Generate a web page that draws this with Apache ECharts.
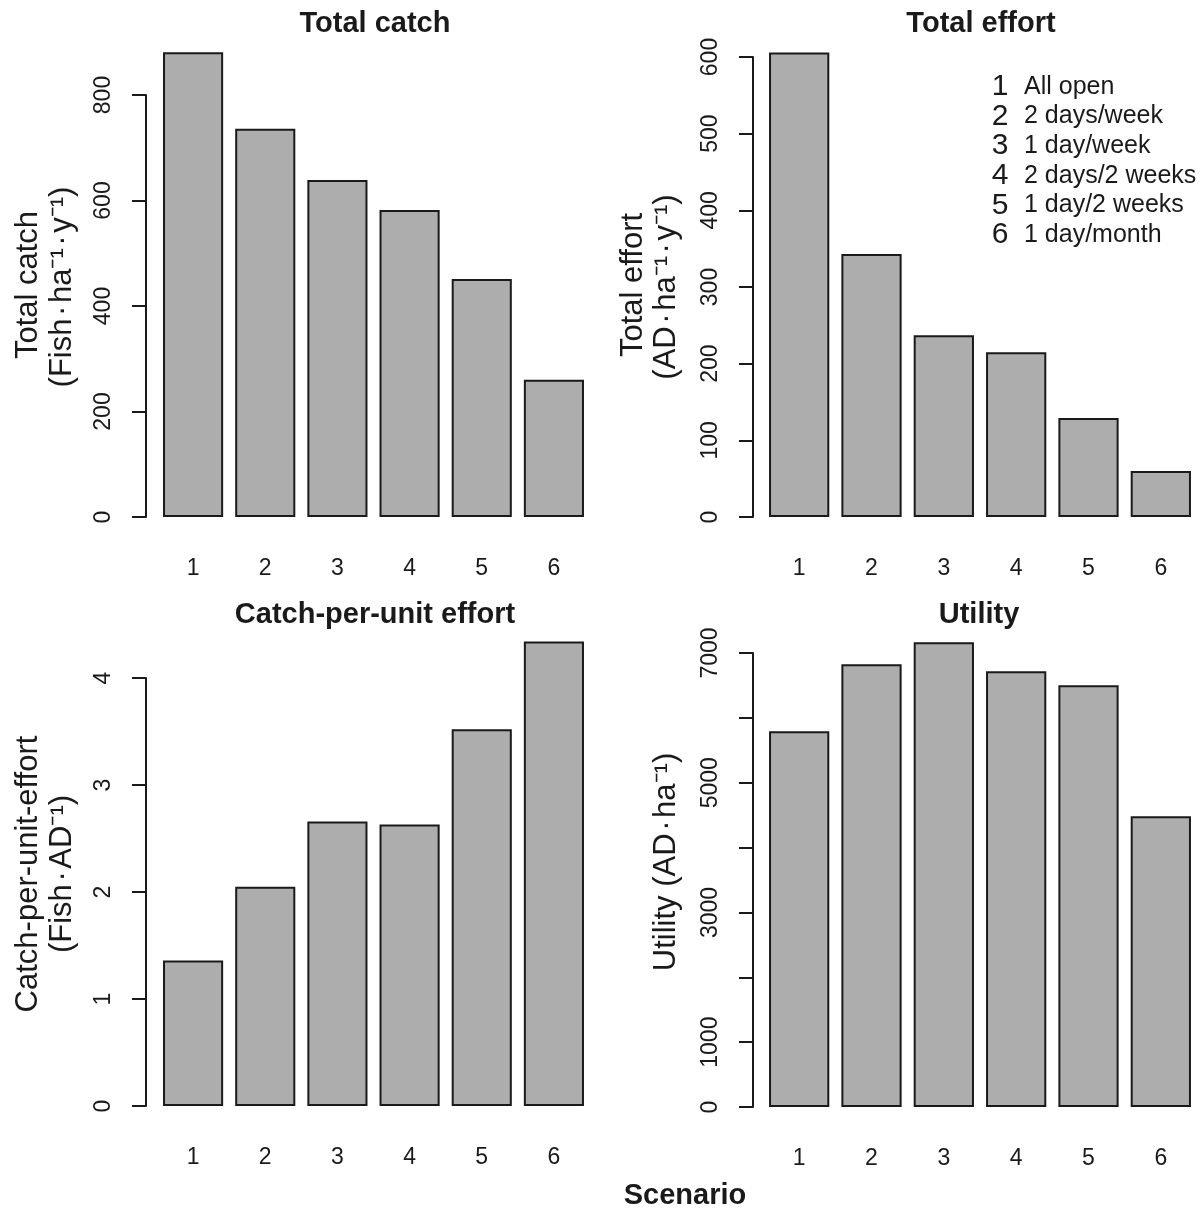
<!DOCTYPE html>
<html>
<head>
<meta charset="utf-8">
<title>Fishing scenarios</title>
<script src="https://cdn.jsdelivr.net/npm/echarts@6/dist/echarts.min.js"></script>
<style>
  html, body { margin: 0; padding: 0; background: #fff; }
  #chart { width: 1202px; height: 1212px; }
</style>
</head>
<body>
<div id="chart"></div>
<script>
// Scenario categories and their descriptions
const categories = ['1', '2', '3', '4', '5', '6'];
const scenarioNames = ['All open', '2 days/week', '1 day/week', '2 days/2 weeks', '1 day/2 weeks', '1 day/month'];

// Values per scenario
const totalCatch = [881, 736, 639, 582, 451, 260];
const totalEffort = [606, 343, 237, 215, 129, 60];
const cpue = [1.36, 2.05, 2.66, 2.63, 3.52, 4.34];
const utility = [5794, 6826, 7165, 6718, 6502, 4484];

// Tick labels for each value axis (blank = tick without label)
const catchTicks = ['0', '200', '400', '600', '800'];
const effortTicks = ['0', '100', '200', '300', '400', '500', '600'];
const cpueTicks = ['0', '1', '2', '3', '4'];
const utilityTicks = ['0', '1000', '', '3000', '', '5000', '', '7000'];

const FONT = '"Liberation Sans", Arial, Helvetica, sans-serif';
const INK = '#1a1a1a';
const BAR_FILL = '#adadad';

const chart = echarts.init(document.getElementById('chart'), null, { renderer: 'canvas' });

// panel layout: grid spans exactly the labelled tick range; taller bars overflow above it
const panels = [
  { data: totalCatch,  ticks: catchTicks,   step: 200,  grid: { left: 157, top: 95,  width: 433, height: 422 }, offset: 11 },
  { data: totalEffort, ticks: effortTicks,  step: 100,  grid: { left: 763, top: 57,  width: 434, height: 460 }, offset: 10 },
  { data: cpue,        ticks: cpueTicks,    step: 1,    grid: { left: 157, top: 678, width: 433, height: 428 }, offset: 11 },
  { data: utility,     ticks: utilityTicks, step: 1000, grid: { left: 763, top: 653, width: 434, height: 454 }, offset: 10 }
];

const grids = [], xAxes = [], yAxes = [], series = [];
panels.forEach((p, i) => {
  grids.push(p.grid);
  xAxes.push({
    type: 'category', gridIndex: i, data: categories,
    axisLine: { show: false }, axisTick: { show: false },
    axisLabel: { margin: 40, fontSize: 23, fontFamily: FONT, color: INK }
  });
  yAxes.push({
    type: 'value', gridIndex: i, min: 0, max: p.step * (p.ticks.length - 1), interval: p.step,
    offset: p.offset,
    splitLine: { show: false },
    axisLine: { show: true, lineStyle: { color: INK, width: 2 } },
    axisTick: { show: true, length: 14, lineStyle: { color: INK, width: 2 } },
    axisLabel: {
      rotate: 90, margin: 31, fontSize: 23, fontFamily: FONT, color: INK,
      formatter: (v) => { const k = Math.round(v / p.step); return p.ticks[k] !== undefined ? p.ticks[k] : ''; }
    }
  });
  series.push({
    type: 'bar', xAxisIndex: i, yAxisIndex: i, data: p.data,
    barCategoryGap: '16.7%', clip: false, silent: true,
    itemStyle: { color: BAR_FILL, borderColor: INK, borderWidth: 2 }
  });
});

function label(text, x, y, font, rot) {
  return {
    type: 'text', x: x, y: y, rotation: rot || 0, silent: true,
    style: {
      text: text, font: font, fill: INK,
      align: 'center', verticalAlign: 'middle',
      textAlign: 'center', textVerticalAlign: 'middle'
    }
  };
}

const TITLE_FONT = 'bold 29px ' + FONT;
const LAB_FONT = '31px ' + FONT;
const R = Math.PI / 2;
const DOT = '\u200A\u00B7\u200A';
const INV = '\u207B\u00B9';

const graphics = [
  label('Total catch', 375, 24, TITLE_FONT),
  label('Total effort', 981, 24, TITLE_FONT),
  label('Catch-per-unit effort', 375, 615, TITLE_FONT),
  label('Utility', 979, 615, TITLE_FONT),
  label('Scenario', 685, 1196, TITLE_FONT),

  label('Total catch', 28, 285, LAB_FONT, R),
  label('(Fish' + DOT + 'ha' + INV + DOT + 'y' + INV + ')', 62, 287, LAB_FONT, R),
  label('Total effort', 633, 285, LAB_FONT, R),
  label('(AD' + DOT + 'ha' + INV + DOT + 'y' + INV + ')', 666, 287, LAB_FONT, R),
  label('Catch-per-unit-effort', 28, 874, LAB_FONT, R),
  label('(Fish' + DOT + 'AD' + INV + ')', 62, 874, LAB_FONT, R),
  label('Utility (AD' + DOT + 'ha' + INV + ')', 666, 862, LAB_FONT, R)
];

// scenario key inside the effort panel
scenarioNames.forEach((name, i) => {
  const y = 87 + i * 29.6;
  graphics.push(label(categories[i], 1000, y, '30px ' + FONT));
  graphics.push({
    type: 'text', x: 1024, y: y, silent: true,
    style: { text: name, font: '25px ' + FONT, fill: INK, align: 'left', verticalAlign: 'middle', textAlign: 'left', textVerticalAlign: 'middle' }
  });
});

chart.setOption({
  animation: false,
  backgroundColor: '#ffffff',
  grid: grids,
  xAxis: xAxes,
  yAxis: yAxes,
  series: series,
  graphic: graphics
});
</script>
</body>
</html>
